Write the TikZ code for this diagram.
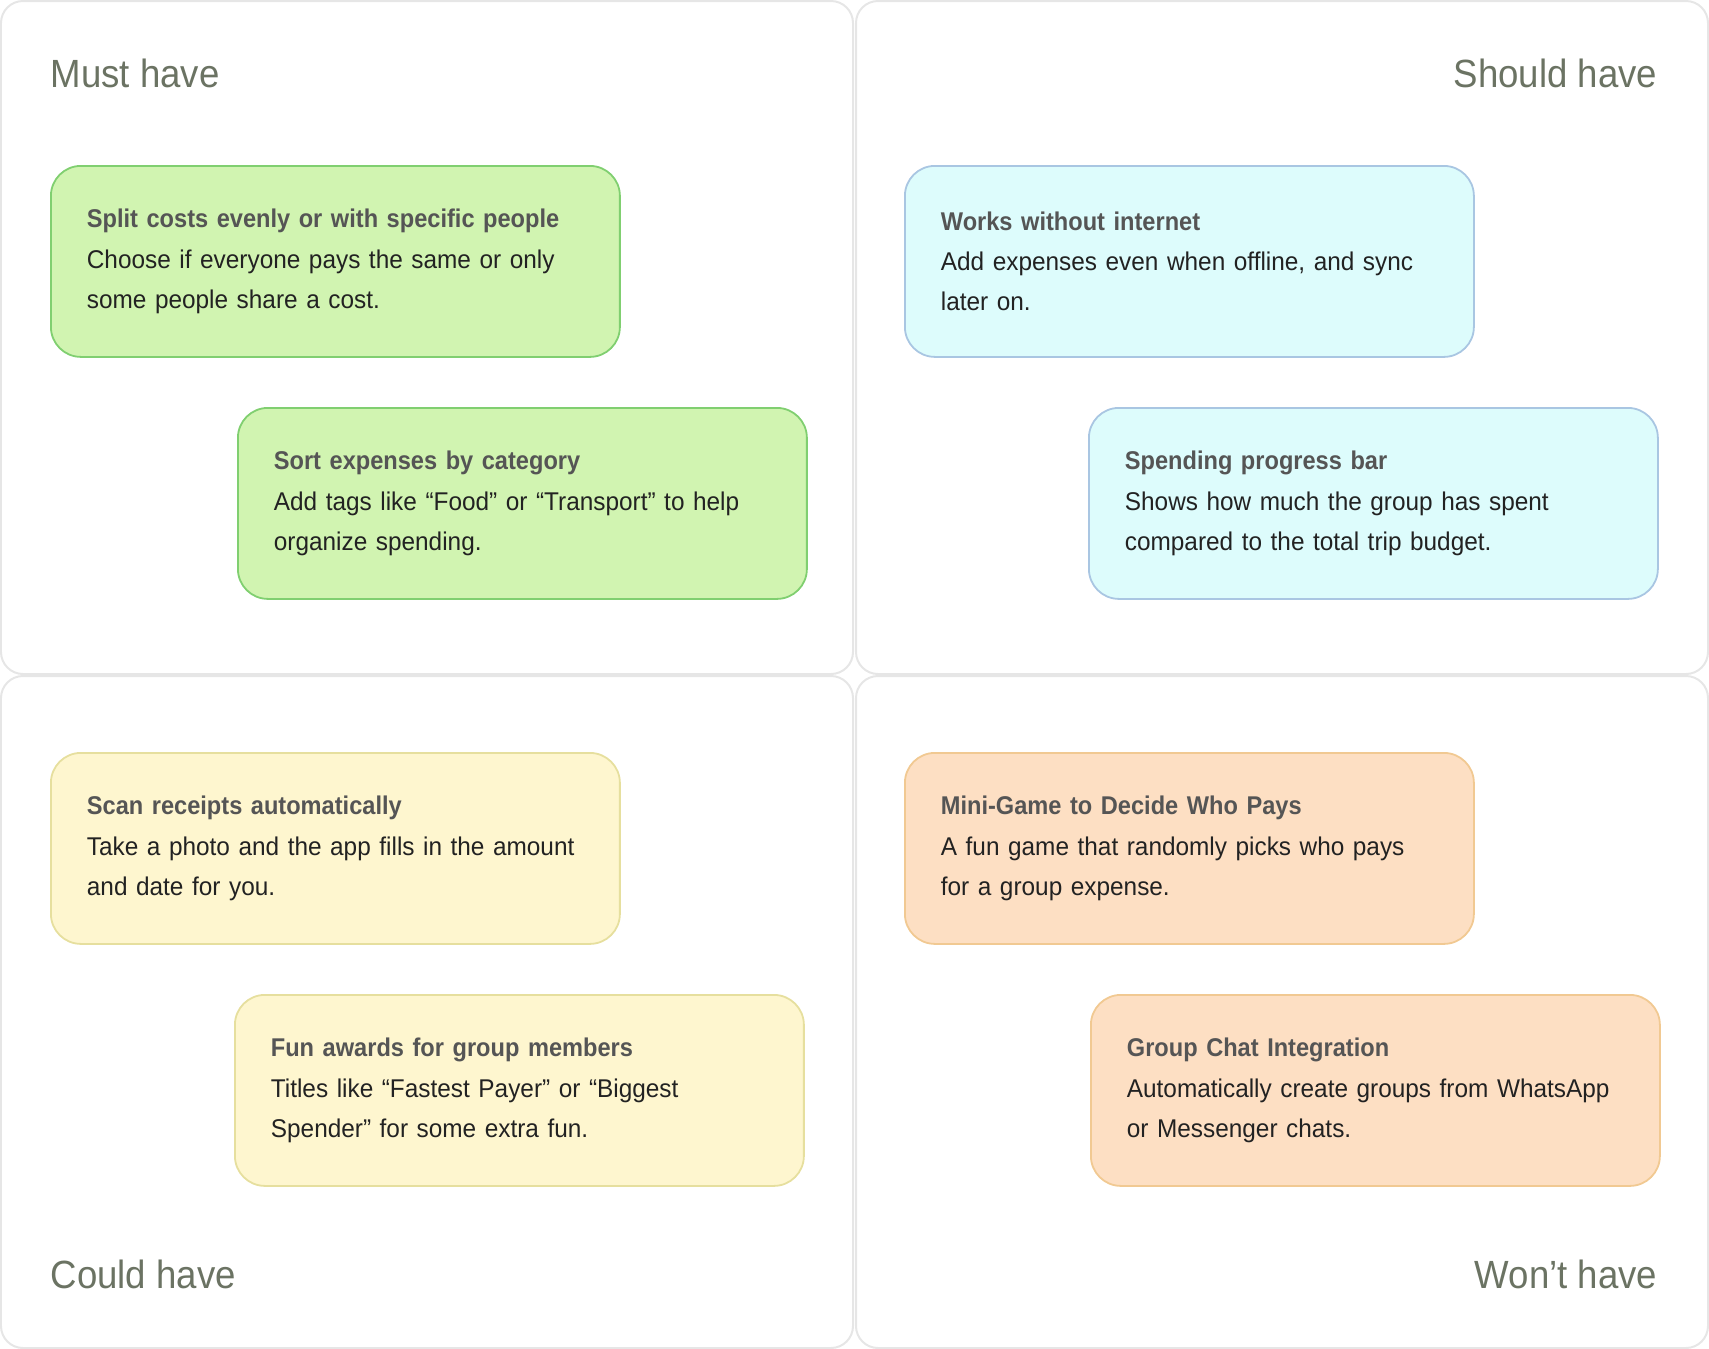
\documentclass[tikz,border=0pt]{standalone}
\usepackage{fontspec}
\setmainfont{Liberation Sans}[FakeStretch=0.95]
\newfontfamily\headfont{Liberation Sans}[FakeStretch=0.92]
\newfontfamily\labelfont{Liberation Sans}[FakeStretch=0.93]
\definecolor{panelline}{HTML}{E6E6E6}
\definecolor{labelgray}{HTML}{6B7363}
\definecolor{headgray}{HTML}{555555}
\definecolor{bodygray}{HTML}{222222}
\definecolor{mustfill}{HTML}{D1F4B1}
\definecolor{mustline}{HTML}{80CF70}
\definecolor{shouldfill}{HTML}{DDFCFC}
\definecolor{shouldline}{HTML}{A9C6E2}
\definecolor{couldfill}{HTML}{FEF6CF}
\definecolor{couldline}{HTML}{E6DF9E}
\definecolor{wontfill}{HTML}{FDDFC3}
\definecolor{wontline}{HTML}{F1C992}
\newcommand{\cardtext}[3]{{\headfont\bfseries\color{headgray}\mbox{#1}}\\\mbox{#2}\\\mbox{#3}}
\tikzset{
	panel/.style={draw=panelline, line width=0.2mm, rounded corners=2.2mm},
	card/.style={rounded corners=3mm, line width=0.18mm, anchor=north west,
		text width=49.7mm, inner xsep=3.6mm, minimum height=19.1mm, align=left,
		text=bodygray, font=\fontsize{7.3}{11.4}\selectfont},
	mustcard/.style={card, fill=mustfill, draw=mustline},
	shouldcard/.style={card, fill=shouldfill, draw=shouldline},
	couldcard/.style={card, fill=couldfill, draw=couldline},
	wontcard/.style={card, fill=wontfill, draw=wontline},
	quadlabel/.style={text=labelgray, inner sep=0, font=\labelfont\fontsize{11.2}{14}\selectfont}
}

\begin{document}
\begin{tikzpicture}[x=0.1mm, y=-0.1mm]
	\useasboundingbox (0,0) rectangle (1709,1349);
	\draw[panel] (1,1) rectangle (853,674);
	\draw[panel] (856,1) rectangle (1708,674);
	\draw[panel] (1,676) rectangle (853,1348);
	\draw[panel] (856,676) rectangle (1708,1348);
	\node[quadlabel, anchor=base west] (must) at (50,87) {Must have};
	\node[quadlabel, anchor=base east] (should) at (1658,87) {Should have};
	\node[quadlabel, anchor=base west] (could) at (50,1288) {Could have};
	\node[quadlabel, anchor=base east] (wont) at (1658,1288) {Won’t have};
	\node[mustcard] (split) at (50,165) {\cardtext{Split costs evenly or with specific people}{Choose if everyone pays the same or only}{some people share a cost.}};
	\node[mustcard] (sort) at (237,407) {\cardtext{Sort expenses by category}{Add tags like “Food” or “Transport” to help}{organize spending.}};
	\node[shouldcard] (offline) at (904,165) {\cardtext{Works without internet}{Add expenses even when offline, and sync}{later on.}};
	\node[shouldcard] (progress) at (1088,407) {\cardtext{Spending progress bar}{Shows how much the group has spent}{compared to the total trip budget.}};
	\node[couldcard] (scan) at (50,752) {\cardtext{Scan receipts automatically}{Take a photo and the app fills in the amount}{and date for you.}};
	\node[couldcard] (awards) at (234,994) {\cardtext{Fun awards for group members}{Titles like “Fastest Payer” or “Biggest}{Spender” for some extra fun.}};
	\node[wontcard] (minigame) at (904,752) {\cardtext{Mini-Game to Decide Who Pays}{A fun game that randomly picks who pays}{for a group expense.}};
	\node[wontcard] (chat) at (1090,994) {\cardtext{Group Chat Integration}{Automatically create groups from WhatsApp}{or Messenger chats.}};
\end{tikzpicture}
\end{document}
